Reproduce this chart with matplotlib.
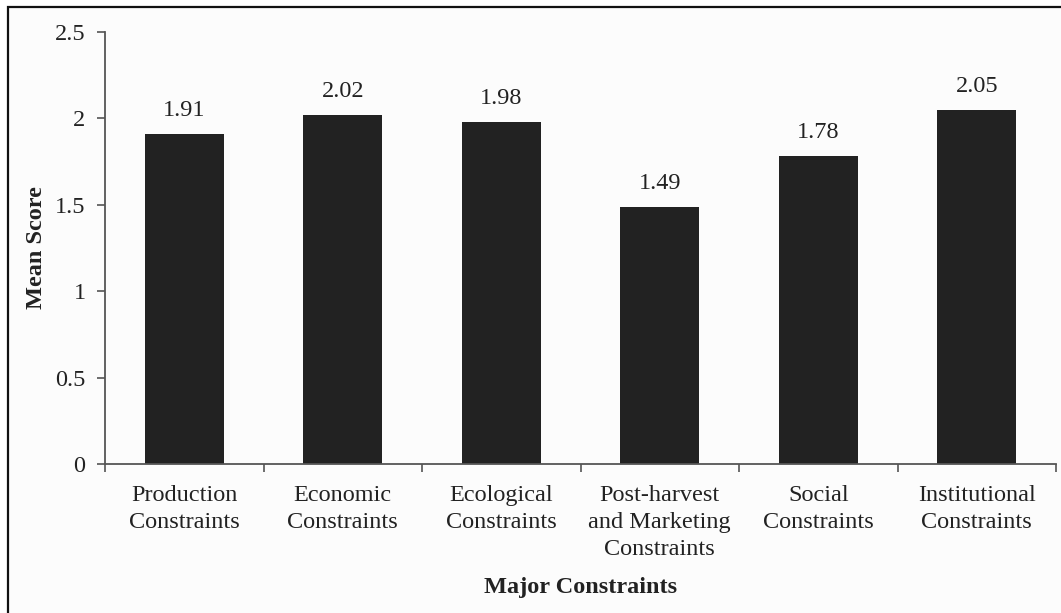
import matplotlib.pyplot as plt
import numpy as np

categories = ["Production\nConstraints", "Economic\nConstraints", "Ecological\nConstraints",
              "Post-harvest\nand Marketing\nConstraints", "Social\nConstraints",
              "Institutional\nConstraints"]
mean_scores = [1.91, 2.02, 1.98, 1.49, 1.78, 2.05]
y_ticks = [0, 0.5, 1, 1.5, 2, 2.5]
y_tick_labels = ["0", "0.5", "1", "1.5", "2", "2.5"]

plt.rcParams['font.family'] = 'serif'
plt.rcParams['font.serif'] = ['Liberation Serif', 'DejaVu Serif']

fig = plt.figure(figsize=(10.61, 6.13), dpi=100)
fig.patch.set_facecolor('white')

# cropped frame: only top and left edges visible
fig.add_artist(plt.Rectangle((8 / 1061, -0.2), 1.2, 1.2 - 7 / 613, transform=fig.transFigure,
                             facecolor='#fcfcfc', edgecolor='#111111', linewidth=1.6, zorder=-1))

ax = fig.add_axes([105 / 1061, 1 - 464 / 613, 951 / 1061, 432 / 613])
ax.set_facecolor('none')

x = np.arange(len(categories))
ax.bar(x, mean_scores, width=0.5, color='#222222')
for xi, v in zip(x, mean_scores):
    ax.text(xi, v + 0.075, f"{v:.2f}", ha='center', va='bottom', fontsize=17.5, color='#222222')

ax.set_xlim(-0.5, len(categories) - 0.5)
ax.set_ylim(0, 2.5)
ax.set_yticks(y_ticks)
ax.set_yticklabels(y_tick_labels, fontsize=17.5, color='#222222')

ax.set_xticks(x)
ax.set_xticklabels(categories, fontsize=17.5, color='#222222', linespacing=1.38)
ax.tick_params(axis='x', length=0, pad=15)
ax.set_xticks(np.arange(len(categories) + 1) - 0.5, minor=True)
ax.tick_params(axis='x', which='minor', length=6, width=1.2, color='#555555')
ax.tick_params(axis='y', length=6, width=1.2, color='#555555', pad=8)

for s in ['top', 'right']:
    ax.spines[s].set_visible(False)
for s in ['left', 'bottom']:
    ax.spines[s].set_color('#555555')
    ax.spines[s].set_linewidth(1.3)

ax.set_ylabel("Mean Score", fontsize=17.5, fontweight='bold', color='#222222', labelpad=6)
ax.set_xlabel("Major Constraints", fontsize=17.5, fontweight='bold', color='#222222', labelpad=12)

fig.savefig("out.png", dpi=100)
